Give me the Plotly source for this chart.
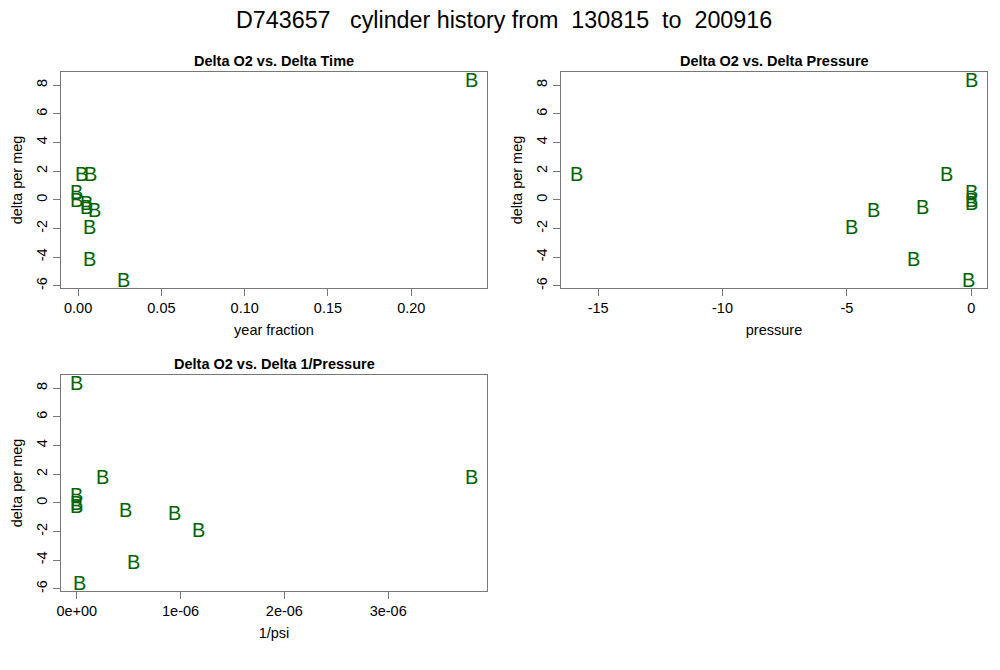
import plotly.graph_objects as go

# ---- data ----
delta_o2 = [8.36, 1.8, 1.8, 0.55, 0.0, -0.25, -0.5, -0.7, -1.9, -4.1, -5.6]
delta_time = [0.236, 0.0072, 0.0018, -0.0008, -0.0008, 0.005, 0.005, 0.010, 0.007, 0.007, 0.027]
delta_pressure = [0.0, -15.86, -1.0, 0.0, 0.0, 0.0, -1.97, -3.94, -4.83, -2.33, -0.12]
delta_inv_p = [0.0, 3.80e-6, 0.25e-6, 0.0, 0.0, 0.0, 0.47e-6, 0.94e-6, 1.17e-6, 0.55e-6, 0.03e-6]
point_label = "B"

y_ticks = [-6, -4, -2, 0, 2, 4, 6, 8]
time_ticks = [0.0, 0.05, 0.10, 0.15, 0.20]
time_ticktext = ["0.00", "0.05", "0.10", "0.15", "0.20"]
pressure_ticks = [-15, -10, -5, 0]
pressure_ticktext = ["-15", "-10", "-5", "0"]
invp_ticks = [0.0, 1e-6, 2e-6, 3e-6]
invp_ticktext = ["0e+00", "1e-06", "2e-06", "3e-06"]

main_title = "D743657   cylinder history from  130815  to  200916"
panel_titles = ["Delta O2 vs. Delta Time", "Delta O2 vs. Delta Pressure", "Delta O2 vs. Delta 1/Pressure"]
x_titles = ["year fraction", "pressure", "1/psi"]
y_title = "delta per meg"

W, H = 1000, 670
FONT = "Liberation Sans, Arial, Helvetica, sans-serif"
GREEN = "#006400"
FRAME = "#777777"
FS = 14.5


def r_range(vals):
    lo, hi = min(vals), max(vals)
    d = (hi - lo) * 0.04
    return [lo - d, hi + d]


# panel boxes in pixels (left, top, right, bottom)
boxes = [(61, 72, 487, 288), (561, 72, 987, 288), (61, 375, 487, 591)]
xs = [delta_time, delta_pressure, delta_inv_p]
xticks = [(time_ticks, time_ticktext), (pressure_ticks, pressure_ticktext), (invp_ticks, invp_ticktext)]

fig = go.Figure()
layout = dict(
    width=W, height=H,
    margin=dict(l=0, r=0, t=0, b=0, autoexpand=False),
    paper_bgcolor="white", plot_bgcolor="white",
    showlegend=False,
    font=dict(family=FONT, size=FS, color="black"),
)
annotations = []
for i, (box, xv, (tv, tt)) in enumerate(zip(boxes, xs, xticks)):
    n = "" if i == 0 else str(i + 1)
    l, t, r, b = box
    # invisible trace to register the axes
    fig.add_trace(go.Scatter(
        x=xv, y=delta_o2, mode="markers", marker=dict(opacity=0),
        xaxis="x" + n, yaxis="y" + n, hoverinfo="skip",
    ))
    # point glyphs "B", placed through the axes in data coordinates
    for xval, yval in zip(xv, delta_o2):
        annotations.append(dict(
            x=xval, y=yval, xref="x" + n, yref="y" + n, text=point_label,
            showarrow=False, xanchor="center", yanchor="middle",
            font=dict(family=FONT, size=20, color=GREEN)))
    common = dict(showgrid=False, zeroline=False, showline=True, linecolor=FRAME, linewidth=1,
                  mirror=True, ticks="outside", ticklen=7, tickwidth=1, tickcolor=FRAME,
                  automargin=False,
                  tickfont=dict(family=FONT, size=FS, color="black"))
    layout["xaxis" + n] = dict(
        domain=[l / W, r / W], anchor="y" + n, range=r_range(xv),
        tickvals=tv, ticktext=tt,
        title=dict(text=x_titles[i], font=dict(family=FONT, size=FS), standoff=9),
        **common)
    layout["yaxis" + n] = dict(
        domain=[1 - b / H, 1 - t / H], anchor="x" + n, range=r_range(delta_o2),
        tickvals=y_ticks, ticktext=[str(v) for v in y_ticks], tickangle=-90,
        title=dict(text=y_title, font=dict(family=FONT, size=FS), standoff=8),
        **common)
    annotations.append(dict(
        text="<b>" + panel_titles[i] + "</b>", x=(l + r) / 2 / W, y=1 - (t - 11) / H,
        xref="paper", yref="paper", showarrow=False, xanchor="center", yanchor="middle",
        font=dict(family=FONT, size=FS, color="black")))

annotations.append(dict(
    text=main_title.replace(" ", "\u00a0"), x=0.504, y=1 - 20 / H, xref="paper", yref="paper",
    showarrow=False, xanchor="center", yanchor="middle",
    font=dict(family=FONT, size=23.3, color="black")))
layout["annotations"] = annotations
fig.update_layout(**layout)
fig.write_html("out.html", config={"displayModeBar": False},
               post_script="document.body.style.margin='0px';")
